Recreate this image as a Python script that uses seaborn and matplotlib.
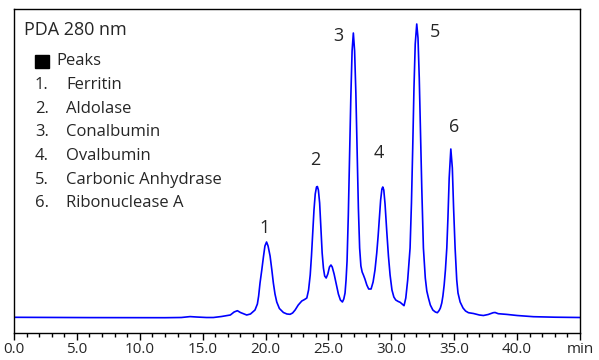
import numpy as np
import pandas as pd
import matplotlib
matplotlib.use("Agg")
import matplotlib.pyplot as plt
import seaborn as sns
from matplotlib.patches import Rectangle

# --- Data (time in min, signal in arbitrary units) ---
time_min = [
    0.0, 3.0, 6.0, 9.0, 12.0, 13.3, 14.0, 14.5, 15.3, 15.85, 16.5, 17.2, 17.5, 17.76,
    18.0, 18.5, 18.8, 19.16, 19.35, 19.45, 19.56, 19.7, 19.83, 19.95, 20.08, 20.2,
    20.36, 20.5, 20.62, 20.75, 20.89, 21.1, 21.42, 21.7, 21.95, 22.15, 22.35, 22.6,
    22.88, 23.1, 23.28, 23.42, 23.55, 23.65, 23.75, 23.85, 23.95, 24.05, 24.12, 24.2,
    24.3, 24.4, 24.5, 24.6, 24.7, 24.82, 24.95, 25.08, 25.2, 25.3, 25.45, 25.6, 25.79,
    25.95, 26.11, 26.22, 26.32, 26.4, 26.48, 26.58, 26.68, 26.78, 26.88, 26.98, 27.08,
    27.18, 27.28, 27.38, 27.48, 27.58, 27.68, 27.78, 27.9, 28.05, 28.2, 28.39, 28.55,
    28.7, 28.84, 28.95, 29.05, 29.15, 29.25, 29.32, 29.4, 29.5, 29.64, 29.77, 29.9,
    30.05, 30.2, 30.35, 30.55, 30.7, 30.85, 31.01, 31.15, 31.3, 31.49, 31.6, 31.7,
    31.8, 31.9, 32.02, 32.12, 32.22, 32.32, 32.42, 32.55, 32.7, 32.82, 32.95, 33.1,
    33.3, 33.5, 33.66, 33.8, 33.9, 34.01, 34.1, 34.2, 34.3, 34.41, 34.5, 34.6, 34.73,
    34.85, 34.95, 35.07, 35.2, 35.3, 35.47, 35.7, 35.9, 36.13, 36.53, 37.0, 37.32,
    37.7, 38.1, 38.25, 38.5, 38.8, 39.18, 40.0, 41.3, 43.0, 45.0,
]
signal = [
    0.7, 0.5, 0.4, 0.3, 0.3, 0.5, 1.4, 1.0, 0.5, 0.5, 1.5, 3.0, 6.0, 7.3,
    5.5, 3.0, 4.0, 8.0, 14.0, 22.0, 35.0, 48.0, 61.0, 72.0, 76.0, 72.0,
    62.0, 48.0, 35.0, 24.0, 16.0, 9.5, 5.5, 4.0, 3.7, 5.0, 8.0, 13.0,
    17.0, 18.5, 20.0, 28.0, 43.0, 62.0, 85.0, 108.0, 124.0, 131.0, 131.5, 128.0,
    115.0, 90.0, 65.0, 50.0, 42.0, 40.0, 44.0, 51.0, 53.0, 51.0, 44.0, 35.0, 24.0,
    18.0, 16.0, 19.0, 25.0, 38.0, 57.0, 103.0, 160.0, 221.0, 267.0, 285.0, 267.0,
    225.0, 165.0, 110.0, 70.0, 52.0, 46.0, 43.0, 39.0, 33.0, 29.0, 29.0, 36.0,
    48.0, 65.0, 82.0, 100.0, 118.0, 129.0, 131.0, 128.0, 114.0, 86.0, 62.0, 43.0,
    28.0, 21.0, 18.0, 16.5, 15.7, 14.0, 12.3, 20.0, 38.0, 70.0, 115.0, 170.0,
    230.0, 274.0, 294.0, 280.0, 240.0, 185.0, 130.0, 70.0, 40.0, 27.0, 20.0, 13.0,
    8.0, 6.0, 5.3, 7.5, 10.0, 15.0, 22.0, 33.0, 48.0, 70.0, 100.0, 140.0, 169.0,
    150.0, 110.0, 70.0, 38.0, 25.0, 16.0, 10.0, 7.0, 5.3, 4.5, 3.0, 2.5,
    3.5, 5.3, 5.5, 4.3, 4.0, 3.6, 2.5, 1.3, 0.8, 0.5,
]

peak_ids = ["1", "2", "3", "4", "5", "6"]
peak_names = ["Ferritin", "Aldolase", "Conalbumin", "Ovalbumin",
              "Carbonic Anhydrase", "Ribonuclease A"]
label_time = [19.88, 23.94, 25.77, 29.03, 33.48, 34.99]
label_signal = [90, 158, 282, 165, 286, 191]

tick_pos = [0, 5, 10, 15, 20, 25, 30, 35, 40, 45]
tick_text = ["0.0", "5.0", "10.0", "15.0", "20.0", "25.0", "30.0", "35.0", "40.0", "min"]

W, H = 599, 360
FONT = ["Open Sans", "DejaVu Sans"]
TEXT_SIZE = 12


def px(x, y):
    """Pixel position (from top-left) to figure fraction."""
    return x / W, 1 - y / H


sns.set_style("white")
plt.rcParams["font.family"] = FONT

df = pd.DataFrame({"time": time_min, "signal": signal})

fig = plt.figure(figsize=(W / 100, H / 100), dpi=100)
ax = fig.add_axes([14 / W, 27 / H, 566 / W, 324 / H])

sns.lineplot(data=df, x="time", y="signal", ax=ax, color="#0000ff",
             lw=1.2, estimator=None, sort=False)

ax.set_xlim(0, 45)
ax.set_ylim(-15, 309)
ax.set_xlabel("")
ax.set_ylabel("")
ax.set_yticks([])
ax.set_xticks(tick_pos)
ax.set_xticklabels(tick_text, fontsize=11)
ax.set_xticks(np.arange(0, 46, 1), minor=True)
ax.tick_params(axis="x", which="major", length=5, width=1, pad=1.5, direction="out",
               bottom=True, color="black")
ax.tick_params(axis="x", which="minor", length=3, width=1, bottom=True, color="black")
for sp in ax.spines.values():
    sp.set_visible(True)
    sp.set_color("black")
    sp.set_linewidth(1.0)

# peak numbers
for pid, t, s in zip(peak_ids, label_time, label_signal):
    ax.text(t, s, pid, ha="center", va="center", fontsize=TEXT_SIZE + 1)

# header and peak list
fig.text(*px(24, 35), "PDA 280 nm", fontsize=TEXT_SIZE + 1, va="baseline")
ax.add_patch(Rectangle(((35 - 14) / 566, (333 - 68) / 324), 14 / 566, 13 / 324,
                       transform=ax.transAxes, color="black", clip_on=False))
fig.text(*px(56, 65), "Peaks", fontsize=TEXT_SIZE, va="baseline")
for i, (pid, name) in enumerate(zip(peak_ids, peak_names)):
    y = 89 + i * 23.7
    fig.text(*px(35, y), pid + ".", fontsize=TEXT_SIZE, va="baseline")
    fig.text(*px(66, y), name, fontsize=TEXT_SIZE, va="baseline")

fig.savefig("out.png", dpi=100)
